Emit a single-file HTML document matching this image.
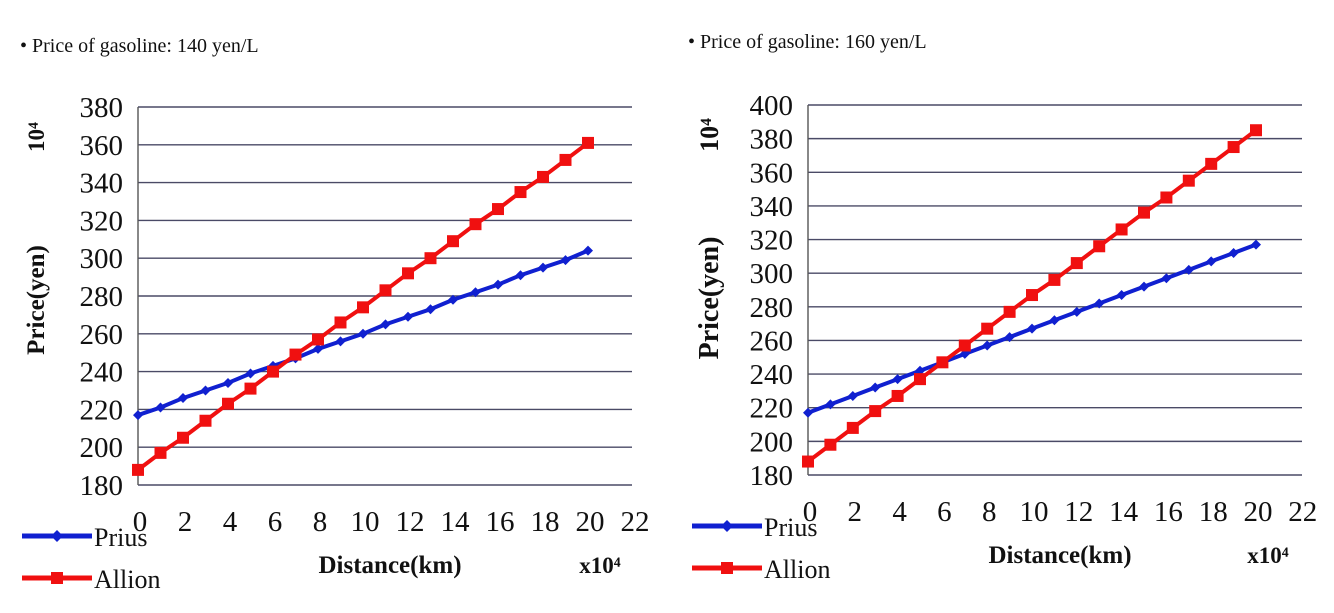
<!DOCTYPE html>
<html><head><meta charset="utf-8">
<style>
body{margin:0;background:#fff;width:1334px;height:613px;overflow:hidden;font-family:"Liberation Serif",serif;}
svg{position:absolute;left:0;top:0}
</style></head><body>
<svg id="c" width="1334" height="613"></svg>
<script>
const xTicks=[0,2,4,6,8,10,12,14,16,18,20,22];
const distances=[0,1,2,3,4,5,6,7,8,9,10,11,12,13,14,15,16,17,18,19,20];
const leftYTicks=[180,200,220,240,260,280,300,320,340,360,380];
const rightYTicks=[180,200,220,240,260,280,300,320,340,360,380,400];
const leftPrius=[217,221,226,230,234,239,243,247,252,256,260,265,269,273,278,282,286,291,295,299,304];
const leftAllion=[188,197,205,214,223,231,240,249,257,266,274,283,292,300,309,318,326,335,343,352,361];
const rightPrius=[217,222,227,232,237,242,247,252,257,262,267,272,277,282,287,292,297,302,307,312,317];
const rightAllion=[188,198,208,218,227,237,247,257,267,277,287,296,306,316,326,336,345,355,365,375,385];

const NS="http://www.w3.org/2000/svg";
const svg=document.getElementById('c');
function el(tag,attrs,parent){const e=document.createElementNS(NS,tag);for(const k in attrs)e.setAttribute(k,attrs[k]);(parent||svg).appendChild(e);return e;}
function txt(s,attrs,parent){const e=el('text',attrs,parent);e.textContent=s;return e;}

function chart(cfg){
  const g=el('g',{});
  
  
  const ymin=cfg.yTicks[0],ymax=cfg.yTicks[cfg.yTicks.length-1];
  const X=v=>cfg.x0+v*cfg.xs;
  const Y=v=>cfg.yBot-(v-ymin)/(ymax-ymin)*(cfg.yBot-cfg.yTop);
  cfg.yTicks.forEach(t=>{
    const l=el('line',{x1:cfg.x0,x2:cfg.xEnd,y1:Y(t),y2:Y(t),stroke:'#4a4a66','stroke-width':1.4},g);
    
    
    const tl=txt(String(t),{x:cfg.x0-15,y:Y(t)+10,'text-anchor':'end','font-size':29,fill:'#111'},g);
    
    
  });
  const ax=el('line',{x1:cfg.x0,x2:cfg.x0,y1:cfg.yTop,y2:cfg.yBot,stroke:'#555','stroke-width':1.4},g);
  
  
  xTicks.forEach(t=>{
    const tl=txt(String(t),{x:X(t)+2,y:cfg.yBot+46,'text-anchor':'middle','font-size':29,fill:'#111'},g);
    
    
  });
  function series(vals,color,marker,nm){
    const pts=distances.map((d,i)=>X(d)+','+Y(vals[i])).join(' ');
    const pl=el('polyline',{points:pts,fill:'none',stroke:color,'stroke-width':4},g);
    
    
    distances.forEach((d,i)=>{
      let m;
      if(marker==='sq'){m=el('rect',{x:X(d)-6,y:Y(vals[i])-6,width:12,height:12,fill:color},g);}
      else{const cx=X(d),cy=Y(vals[i]);m=el('polygon',{points:`${cx},${cy-5} ${cx+5},${cy} ${cx},${cy+5} ${cx-5},${cy}`,fill:color},g);}
      
      
    });
  }
  series(cfg.prius,'#1020d0','dia','prius');
  series(cfg.allion,'#f01010','sq','allion');
  const t=txt('• Price of gasoline: '+cfg.price,{x:cfg.titleX,y:cfg.titleY,'font-size':20,fill:'#111'},g);
  
  
  const yl=txt('Price(yen)',{transform:`translate(${cfg.ylabX},${cfg.ylabY}) rotate(-90)`,'text-anchor':'middle','font-size':cfg.ylabSize,'font-weight':'bold',fill:'#111'},g);
  
  
  const yu=txt('10⁴',{transform:`translate(${cfg.ylabX},${cfg.yTop+30}) rotate(-90)`,'text-anchor':'middle','font-size':cfg.ylabSize-2,'font-weight':'bold',fill:'#111'},g);
  
  
  const xl=txt('Distance(km)',{x:cfg.x0+252,y:cfg.yBot+88,'text-anchor':'middle','font-size':25,'font-weight':'bold',fill:'#111'},g);
  
  
  const xu=txt('x10⁴',{x:X(20)+12,y:cfg.yBot+88,'text-anchor':'middle','font-size':23,'font-weight':'bold',fill:'#111'},g);
  
  
  const lp=el('line',{x1:cfg.legX,x2:cfg.legX+70,y1:cfg.yBot+51,y2:cfg.yBot+51,stroke:'#1020d0','stroke-width':5},g);
  
  
  const cx=cfg.legX+35,cy=cfg.yBot+51;
  const ld=el('polygon',{points:`${cx},${cy-6} ${cx+6},${cy} ${cx},${cy+6} ${cx-6},${cy}`,fill:'#1020d0'},g);
  
  
  const lpt=txt('Prius',{x:cfg.legX+72,y:cfg.yBot+61,'font-size':26,fill:'#111'},g);
  
  
  const la=el('line',{x1:cfg.legX,x2:cfg.legX+70,y1:cfg.yBot+93,y2:cfg.yBot+93,stroke:'#f01010','stroke-width':5},g);
  
  
  const lr=el('rect',{x:cfg.legX+29,y:cfg.yBot+87,width:12,height:12,fill:'#f01010'},g);
  
  
  const lat=txt('Allion',{x:cfg.legX+72,y:cfg.yBot+103,'font-size':26,fill:'#111'},g);
  
  
}
chart({name:'chart-140-yen',x0:138,xs:22.5,xEnd:632,yTop:107,yBot:485,yTicks:leftYTicks,prius:leftPrius,allion:leftAllion,price:'140 yen/L',titleX:20,titleY:52,ylabX:44,ylabY:300,ylabSize:25,legX:22});
chart({name:'chart-160-yen',x0:808,xs:22.4,xEnd:1302,yTop:105,yBot:475,yTicks:rightYTicks,prius:rightPrius,allion:rightAllion,price:'160 yen/L',titleX:688,titleY:48,ylabX:718,ylabY:298,ylabSize:28,legX:692});
</script>
</body></html>
